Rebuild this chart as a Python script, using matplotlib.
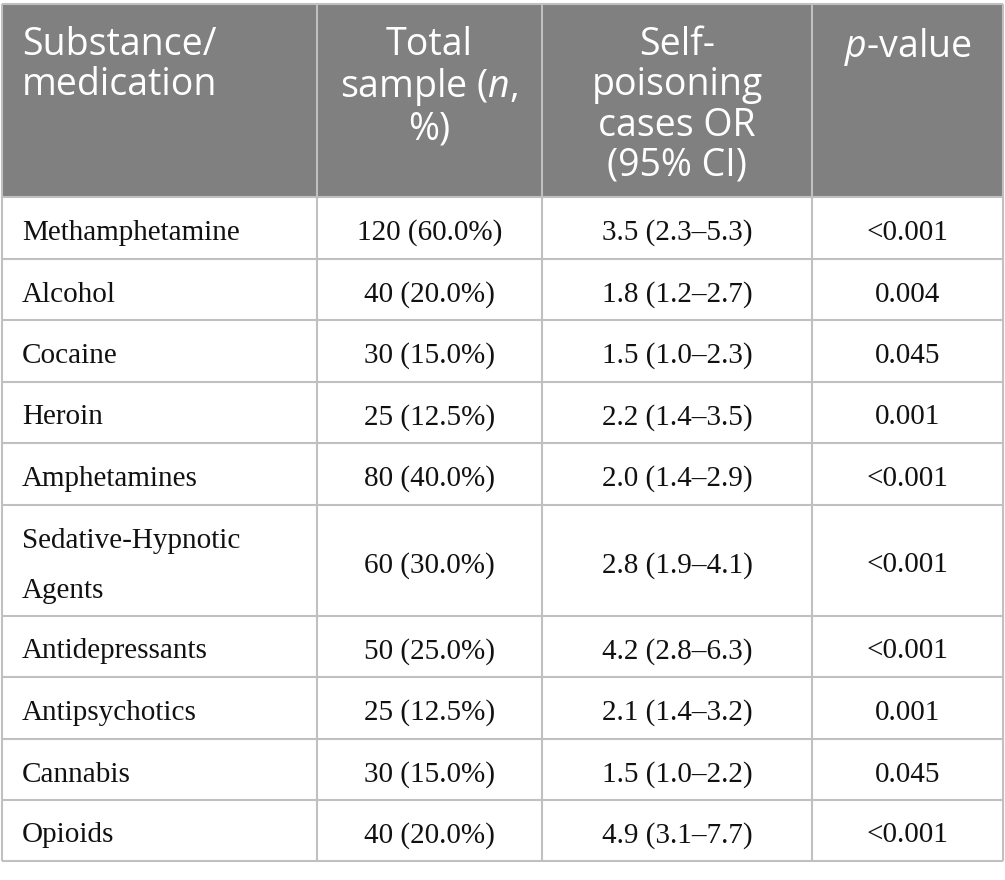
import matplotlib.pyplot as plt

plt.rcParams['mathtext.fontset'] = 'custom'
plt.rcParams['mathtext.rm'] = 'Open Sans'
plt.rcParams['mathtext.it'] = 'Open Sans:italic'

encabezados = ["Substance/\nmedication", "Total\nsample ($n$,\n%)",
               "Self-\npoisoning\ncases OR\n(95% CI)", "$p$-value"]
sustancias = ["Methamphetamine", "Alcohol", "Cocaine", "Heroin", "Amphetamines",
              "Sedative-Hypnotic\nAgents", "Antidepressants", "Antipsychotics",
              "Cannabis", "Opioids"]
muestra = ["120 (60.0%)", "40 (20.0%)", "30 (15.0%)", "25 (12.5%)", "80 (40.0%)",
           "60 (30.0%)", "50 (25.0%)", "25 (12.5%)", "30 (15.0%)", "40 (20.0%)"]
odds = ["3.5 (2.3–5.3)", "1.8 (1.2–2.7)", "1.5 (1.0–2.3)", "2.2 (1.4–3.5)",
        "2.0 (1.4–2.9)", "2.8 (1.9–4.1)", "4.2 (2.8–6.3)", "2.1 (1.4–3.2)",
        "1.5 (1.0–2.2)", "4.9 (3.1–7.7)"]
p_valor = ["<0.001", "0.004", "0.045", "0.001", "<0.001", "<0.001", "<0.001",
           "0.001", "0.045", "<0.001"]

# geometria en pixeles
cols = [2, 317, 542, 812, 1003]
filas = [4, 197, 259, 320, 382, 443, 505, 616, 677, 739, 800, 861]
gris = "#808080"
borde = "#c0c0c0"

fig = plt.figure(figsize=(10.05, 8.8), dpi=100)
ax = fig.add_axes([0, 0, 1, 1])
ax.set_xlim(0, 1005)
ax.set_ylim(880, 0)
ax.axis("off")

# encabezado
ax.fill_between([cols[0], cols[-1]], filas[0], filas[1], color=gris, lw=0)
for i, txt in enumerate(encabezados):
    if i == 0:
        x, ha = cols[0] + 20, "left"
    else:
        x, ha = (cols[i] + cols[i + 1]) / 2, "center"
    ax.text(x, 26, txt, ha=ha, va="top", color="white", family="Open Sans",
            fontsize=27, linespacing=1.08, multialignment="center" if i else "left")

# cuerpo
for r in range(len(sustancias)):
    yc = (filas[r + 1] + filas[r + 2]) / 2 + 5
    ax.text(cols[0] + 20, yc, sustancias[r], ha="left", va="center",
            family="Liberation Serif", fontsize=21, color="#111111", linespacing=2.2)
    for c, valores in enumerate([muestra, odds, p_valor], start=1):
        ax.text((cols[c] + cols[c + 1]) / 2, yc, valores[r], ha="center", va="center",
                family="Liberation Serif", fontsize=21, color="#111111")

# lineas
for y in filas:
    ax.plot([cols[0], cols[-1]], [y, y], color=borde, lw=1.5, solid_capstyle="butt")
for x in cols:
    ax.plot([x, x], [filas[0], filas[-1]], color=borde, lw=1.5, solid_capstyle="butt")

fig.savefig("out.png", dpi=100)
